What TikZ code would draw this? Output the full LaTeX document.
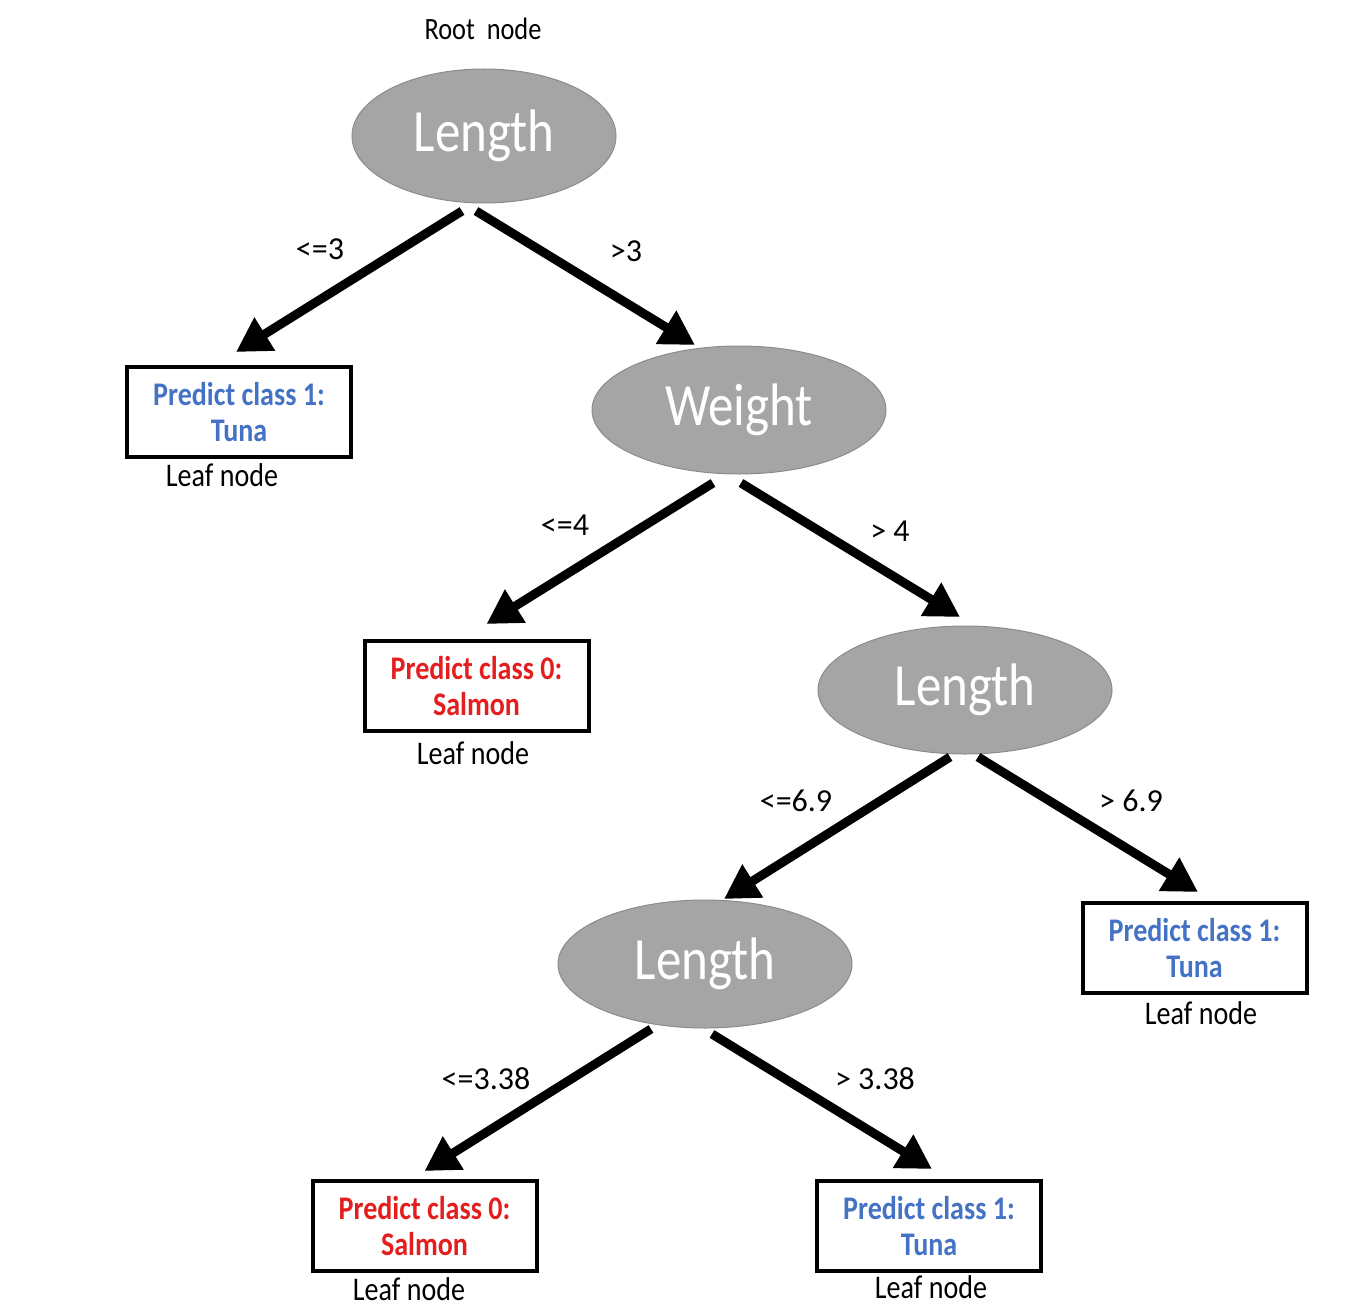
\documentclass[tikz,border=0pt]{standalone}
\usepackage{fontspec}
\setmainfont{Carlito}[FakeStretch=0.85]
\newfontfamily\plainfont{Carlito}
\usetikzlibrary{shapes.geometric,arrows.meta,calc}
\definecolor{nodegray}{RGB}{165,165,165}
\definecolor{nodeedge}{RGB}{140,140,140}
\definecolor{tunablue}{RGB}{68,114,196}
\definecolor{salmonred}{RGB}{228,30,30}
\tikzset{
  ell/.style={ellipse, fill=nodegray, draw=nodeedge, line width=1pt, inner sep=0pt,
    text=white, font=\fontsize{60}{72}\selectfont},
  leaf/.style={rectangle, draw=black, line width=4pt, minimum width=224pt, minimum height=90pt,
    inner sep=0pt, align=center, font=\fontsize{33}{36}\selectfont\bfseries},
  blueleaf/.style={leaf, text=tunablue},
  redleaf/.style={leaf, text=salmonred},
  lbl/.style={inner sep=0pt, font=\fontsize{33}{39}\selectfont},
  cond/.style={inner sep=0pt, font=\plainfont\fontsize{32}{38}\selectfont},
  arr/.style={line width=9pt, -{Triangle[length=34pt,width=37pt]}},
}
\begin{document}
\begin{tikzpicture}[x=1pt,y=-1pt]
\useasboundingbox (0,0) rectangle (1360,1316);
% ellipses
\node[ell, minimum width=264pt, minimum height=134pt] (L1) at (484,136) {Length};
\node[ell, minimum width=294pt, minimum height=128pt] (W) at (739,410) {Weight};
\node[ell, minimum width=294pt, minimum height=128pt] (L3) at (965,690) {Length};
\node[ell, minimum width=294pt, minimum height=128pt] (L4) at (705,964) {Length};
% leaves
\node[blueleaf] (B1) at (239,412) {Predict class 1:\\Tuna};
\node[redleaf] (B2) at (476.5,686) {Predict class 0:\\Salmon};
\node[blueleaf] (B3) at (1194.5,948) {Predict class 1:\\Tuna};
\node[redleaf] (B4) at (424.5,1226) {Predict class 0:\\Salmon};
\node[blueleaf] (B5) at (929,1226) {Predict class 1:\\Tuna};
% labels
\node[lbl, font=\fontsize{31}{37}\selectfont] (root) at (483,29) {Root\space\space node};
\node[lbl] (lf1) at (222,475) {Leaf node};
\node[lbl] (lf2) at (473,753) {Leaf node};
\node[lbl] (lf3) at (1201,1013) {Leaf node};
\node[lbl] (lf4) at (409,1289) {Leaf node};
\node[lbl] (lf5) at (931,1287) {Leaf node};
\node[cond] (c1) at (320,249) {<=3};
\node[cond] (c2) at (626,251) {>3};
\node[cond] (c3) at (565,525) {<=4};
\node[cond] (c4) at (890,531) {> 4};
\node[cond] (c5) at (796,801) {<=6.9};
\node[cond] (c6) at (1131,801) {> 6.9};
\node[cond] (c7) at (486,1079) {<=3.38};
\node[cond] (c8) at (875,1079) {> 3.38};
% arrows
\draw[arr] ($(L1.center)+(-22,75)$) -- ($(B1.center)+(-3,-60)$);
\draw[arr] ($(L1.center)+(-8,75)$) -- ($(W.center)+(-44,-65)$);
\draw[arr] ($(W.center)+(-26,73)$) -- ($(B2.center)+(10,-62)$);
\draw[arr] ($(W.center)+(2,73)$) -- ($(L3.center)+(-5,-73)$);
\draw[arr] ($(L3.center)+(-15,67)$) -- ($(L4.center)+(19,-65)$);
\draw[arr] ($(L3.center)+(13,67)$) -- ($(B3.center)+(3.5,-56)$);
\draw[arr] ($(L4.center)+(-54,65)$) -- ($(B4.center)+(0,-55)$);
\draw[arr] ($(L4.center)+(7,70)$) -- ($(B5.center)+(3,-57)$);
\end{tikzpicture}
\end{document}
